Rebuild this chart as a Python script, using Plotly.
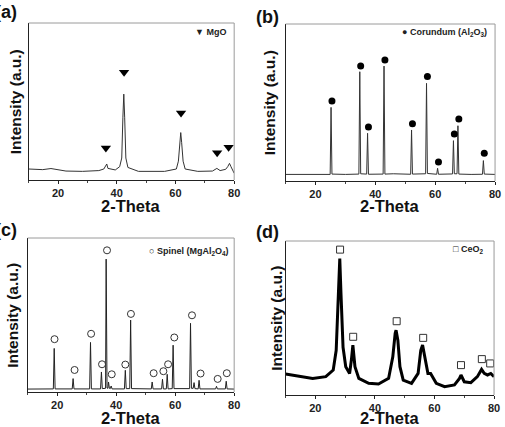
import plotly.graph_objects as go

W, H = 505, 427

# ---------------- data (intensity in % of panel height) ----------------
# (a) MgO
a_x = [10, 14.8, 17.6, 22.7, 28.3, 33.9, 35.6, 36.1, 36.6, 37.0, 39.5, 41.0, 41.7, 42.1, 42.4,
       42.7, 43.1, 43.8, 47.4, 56.3, 60.3, 61.0, 61.5, 61.8, 62.1, 62.6, 63.3, 67.6, 72.6, 74.1,
       75.2, 77.1, 77.8, 78.4, 78.9, 79.5, 80]
a_y = [7.0, 6.6, 7.3, 5.7, 5.5, 6.0, 7.0, 9.0, 10.2, 7.4, 6.4, 8.5, 14, 40, 54.7,
       40, 14, 8.0, 5.5, 5.5, 7.0, 12, 24, 30.2, 24, 12, 7.0, 5.5, 5.7, 7.4,
       6.0, 6.8, 8.5, 10.6, 8.5, 6.5, 4.3]
a_mx = [36.3, 42.5, 61.9, 74.2, 78.1]
a_my = [20.4, 68.7, 42.6, 17.4, 20.9]

# (b) Corundum
b_x = [10, 18, 24.9, 25.2, 25.5, 30, 34.5, 34.8, 35.1, 37.1, 37.4, 37.7, 42.6, 42.9, 43.2,
       46, 51.8, 52.1, 52.4, 56.8, 57.1, 57.4, 59.5, 60.5, 60.8, 61.1, 65.8, 66.1, 66.4, 67.3,
       67.6, 67.9, 72, 75.8, 76.1, 76.4, 80]
b_y = [4.2, 4.4, 4.2, 46.9, 4.4, 4.2, 4.4, 69.6, 4.6, 4.4, 30.4, 4.3, 4.4, 73.2, 4.4,
       4.6, 4.3, 32.5, 4.4, 4.6, 62.2, 4.8, 4.6, 4.3, 8.1, 4.3, 4.5, 25.7, 4.6, 4.6,
       35.2, 4.4, 4.2, 4.3, 13.0, 4.4, 4.2]
b_mx = [25.5, 35.1, 37.7, 43.2, 52.4, 57.4, 61.1, 66.4, 67.9, 76.4]
b_my = [51.0, 73.2, 34.4, 77.1, 36.5, 66.5, 12.1, 29.9, 39.5, 17.6]

# (c) Spinel
c_x = [10, 18.7, 19.0, 19.3, 25.1, 25.4, 25.7, 31.0, 31.3, 31.6, 34.7, 35.0, 35.3, 36.4, 36.6,
       36.9, 37.2, 37.4, 37.7, 38.0, 38.3, 38.6, 42.8, 43.1, 43.4, 44.6, 44.9, 45.2, 51.9, 52.2,
       52.5, 55.4, 55.7, 56.0, 57.0, 57.3, 57.6, 59.0, 59.3, 59.6, 64.9, 65.2, 65.5, 66.1, 66.4,
       66.7, 67.8, 68.1, 68.4, 73.7, 74.0, 74.3, 77.0, 77.3, 77.6, 80]
c_y = [1.9, 2.0, 28.3, 2.0, 2.0, 8.7, 2.0, 2.0, 32.2, 2.0, 2.0, 13.0, 2.2, 2.4, 86.3,
       2.6, 2.4, 6.5, 2.4, 2.2, 3.9, 2.0, 2.0, 14.1, 2.2, 2.2, 46.7, 2.2, 2.0, 6.5,
       2.0, 2.0, 8.3, 2.0, 2.0, 11.5, 2.0, 2.2, 30.4, 2.2, 2.2, 44.6, 2.4, 2.4, 6.1,
       2.2, 2.0, 7.6, 2.0, 2.0, 3.7, 2.0, 2.0, 7.0, 2.0, 1.9]
c_mx = [19.1, 25.9, 31.5, 35.2, 36.9, 38.5, 43.1, 45.0, 52.7, 56.0, 57.6, 59.7, 65.7, 68.6, 74.4, 77.5]
c_my = [34.3, 14.3, 37.8, 18.0, 92.0, 11.5, 17.8, 50.7, 12.2, 13.5, 18.0, 35.4, 49.8, 12.0, 8.5, 12.2]

# (d) CeO2
d_x = [10, 13.5, 19.1, 23.5, 26.0, 27.0, 27.7, 28.2, 28.6, 29.3, 30.2, 31.5, 32.1, 32.6, 33.3,
       34.6, 37.9, 41.2, 44.6, 46.0, 46.8, 47.1, 47.7, 48.4, 49.5, 52.3, 54.5, 55.4, 56.0, 56.7,
       57.8, 58.7, 60.6, 63.4, 66.7, 68.4, 68.9, 70.0, 72.2, 74.4, 75.8, 76.7, 77.8, 78.9, 80]
d_y = [13.6, 12.5, 10.8, 11.9, 16.2, 29, 66, 88.6, 66, 31, 18.4, 14, 22.7, 32.4, 18.4,
       10.8, 7.6, 7.1, 10.8, 24.8, 40, 42.1, 35.6, 18.4, 9.7, 7.6, 14, 29, 32.4, 24.8,
       14, 14, 7.6, 5.4, 6.5, 10.8, 13, 8.6, 8.0, 11.9, 16.6, 14, 13, 14, 11.9]
d_mx = [28.3, 32.7, 47.3, 56.2, 68.9, 75.9, 78.7]
d_my = [94.4, 37.8, 47.9, 37.1, 19.4, 23.3, 20.5]

x_ticks = [20, 40, 60, 80]
panel_labels = ["(a)", "(b)", "(c)", "(d)"]
legend_texts = ["▼ MgO", "● Corundum (Al<sub>2</sub>O<sub>3</sub>)",
                "○ Spinel (MgAl<sub>2</sub>O<sub>4</sub>)", "□ CeO<sub>2</sub>"]
x_title = "2-Theta"
y_title = "Intensity (a.u.)"

# ---------------- layout geometry (pixels) ----------------
boxes = [  # left, right, top, bottom
    (29, 237, 23, 180),
    (289, 501, 24, 181),
    (28, 237, 238, 392),
    (289, 500, 241, 395),
]

def px(x):
    return x / W

def py(y):
    return 1 - y / H

FONT = "Liberation Sans, Arial, sans-serif"

fig = go.Figure()

series = [
    (a_x, a_y, a_mx, a_my, dict(symbol="triangle-down", size=9, color="black"), 1.0, "#333333"),
    (b_x, b_y, b_mx, b_my, dict(symbol="circle", size=7, color="black"), 1.0, "#333333"),
    (c_x, c_y, c_mx, c_my, dict(symbol="circle-open", size=7, color="#333333", line=dict(width=1)), 1.0, "#222222"),
    (d_x, d_y, d_mx, d_my, dict(symbol="square-open", size=7, color="#333333", line=dict(width=1)), 3.0, "#000000"),
]

annotations = []
shapes = []
for i, (xs, ys, mx, my, mk, lw, lc) in enumerate(series):
    n = "" if i == 0 else str(i + 1)
    xa, ya = "x" + n, "y" + n
    fig.add_trace(go.Scatter(x=xs, y=ys, mode="lines", line=dict(color=lc, width=lw),
                             xaxis=xa, yaxis=ya, showlegend=False, hoverinfo="skip"))
    fig.add_trace(go.Scatter(x=mx, y=my, mode="markers", marker=mk,
                             xaxis=xa, yaxis=ya, showlegend=False, hoverinfo="skip"))
    l, r, t, b = boxes[i]
    fig.layout["xaxis" + n] = dict(
        domain=[px(l), px(r)], range=[10, 80], anchor=ya,
        tickvals=x_ticks, ticks="outside", ticklen=3, tickwidth=1, tickcolor="#222",
        minor=dict(tickvals=[10, 30, 50, 70], ticks="outside", ticklen=2, tickcolor="#444"),
        showline=True, linecolor="#222", linewidth=1, showgrid=False, zeroline=False,
        tickfont=dict(family=FONT, size=11, color="#222", weight="bold"),
    )
    fig.layout["yaxis" + n] = dict(
        domain=[py(b), py(t)], range=[0, 100], anchor=xa,
        showticklabels=False, ticks="", showline=True, linecolor="#222", linewidth=1,
        showgrid=False, zeroline=False,
    )
    # light top / right frame
    shapes.append(dict(type="line", xref=xa + " domain", yref=ya + " domain",
                       x0=0, x1=1, y0=1, y1=1, line=dict(color="#9a9a9a", width=1)))
    shapes.append(dict(type="line", xref=xa + " domain", yref=ya + " domain",
                       x0=1, x1=1, y0=0, y1=1, line=dict(color="#9a9a9a", width=1)))

# text placement (pixels)
xt_y = [206, 206, 418, 418]
yt_x = [16, 273, 12, 279]
lab_pos = [(-7, 12), (257, 17), (-7, 230), (257, 232)]
leg_pos = [(231, 32), (495, 33), (233, 251), (491, 249)]

for i in range(4):
    l, r, t, b = boxes[i]
    annotations.append(dict(text=x_title, x=px((l + r) / 2), y=py(xt_y[i]), xref="paper", yref="paper",
                            showarrow=False, xanchor="center", yanchor="middle",
                            font=dict(family=FONT, size=16.5, color="#111", weight="bold")))
    annotations.append(dict(text=y_title, x=px(yt_x[i]), y=py((t + b) / 2), xref="paper", yref="paper",
                            showarrow=False, textangle=-90, xanchor="center", yanchor="middle",
                            font=dict(family=FONT, size=15.5, color="#111", weight="bold")))
    lx, ly = lab_pos[i]
    annotations.append(dict(text=panel_labels[i], x=px(lx), y=py(ly), xref="paper", yref="paper",
                            showarrow=False, xanchor="left", yanchor="middle",
                            font=dict(family=FONT, size=18, color="#111", weight="bold")))
    gx, gy = leg_pos[i]
    annotations.append(dict(text=legend_texts[i], x=px(gx), y=py(gy), xref="paper", yref="paper",
                            showarrow=False, xanchor="right", yanchor="middle",
                            font=dict(family=FONT, size=9, color="#222", weight="bold")))

fig.update_layout(
    width=W, height=H, margin=dict(l=0, r=0, t=0, b=0),
    paper_bgcolor="white", plot_bgcolor="white",
    annotations=annotations, shapes=shapes,
)

fig.write_html("out.html")
